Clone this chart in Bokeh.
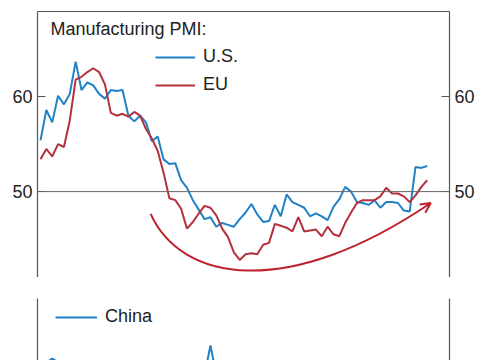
from bokeh.plotting import figure
from bokeh.models import (Range1d, LinearAxis, Span, Legend, LegendItem, Label,
                          Arrow, OpenHead, FixedTicker)
from bokeh.layouts import column
from bokeh.embed import file_html
from bokeh.resources import INLINE

# ---------------- data (monthly, Sep 2020 .. Mar 2026) ----------------
months = list(range(67))
us_pmi = [55.4, 58.6, 57.3, 60.1, 59.2, 60.3, 63.7, 60.7, 61.5, 61.2,
          60.3, 59.8, 60.7, 60.6, 60.7, 58.0, 57.4, 58.0, 57.3, 55.3,
          55.8, 53.4, 52.9, 53.0, 51.2, 50.4, 49.1, 48.1, 47.1, 47.3,
          46.3, 46.7, 46.5, 46.3, 47.1, 47.8, 48.7, 47.6, 46.8, 46.9,
          48.6, 47.4, 49.7, 48.9, 48.6, 48.3, 47.4, 47.7, 47.4, 47.0,
          48.4, 49.2, 50.5, 50.0, 48.9, 48.8, 48.6, 49.1, 48.3, 48.9,
          48.9, 48.8, 48.0, 47.9, 52.6, 52.5, 52.7]
eu_pmi = [53.4, 54.5, 53.7, 55.0, 54.7, 57.5, 61.8, 62.1, 62.6, 63.0,
          62.6, 61.3, 58.3, 58.0, 58.2, 57.9, 58.4, 58.0, 56.6, 55.6,
          54.3, 52.0, 49.3, 49.1, 48.2, 46.1, 46.8, 47.7, 48.5, 48.3,
          47.5, 46.1, 45.2, 43.6, 42.8, 43.4, 43.5, 43.4, 44.4, 44.6,
          46.6, 46.4, 46.2, 45.8, 47.3, 45.8, 45.9, 46.0, 45.3, 46.3,
          45.5, 45.3, 46.7, 47.8, 48.8, 49.1, 49.1, 49.1, 49.5, 50.4,
          49.8, 49.8, 49.5, 48.9, 49.6, 50.5, 51.2]
# only the Feb-2023 spike (and a slight bump late 2020) is visible in the crop
china_pmi = [50.2, 50.1, 50.7, 50.2, 49.9, 49.6, 50.2, 50.1, 50.0, 49.9,
             49.6, 49.4, 49.1, 48.8, 49.5, 49.7, 49.5, 49.6, 49.0, 47.4,
             49.1, 49.6, 48.7, 49.0, 49.5, 48.9, 48.0, 47.0, 48.3, 52.6,
             48.4, 49.0, 48.6, 48.8, 49.1, 49.4, 49.8, 49.3, 49.2, 48.8,
             49.0, 48.9, 50.1, 49.9, 49.3, 49.3, 49.2, 48.9, 49.5, 49.8,
             50.0, 49.8, 48.9, 49.9, 50.1, 48.8, 49.3, 49.5, 49.1, 49.2,
             49.6, 48.8, 49.0, 49.8, 49.1, 49.3, 49.4]
y_ticks = [50, 60]

# curved arrow (annotation), data coordinates
arrow_start = (18.8, 47.65)
arrow_c1 = (24.0, 40.5)
arrow_c2 = (42.0, 38.5)
arrow_end = (66.6, 48.8)

FONT = "Liberation Sans"
BLUE = "#2181c6"
RED = "#b5303d"
ARROW_RED = "#c0222b"
AX = "#555555"
TXT = "#222222"
X_RANGE = (-0.51, 69.8)


def style_axis(ax):
    ax.ticker = FixedTicker(ticks=y_ticks)
    ax.axis_line_color = AX
    ax.axis_line_width = 1.2
    ax.major_tick_line_color = AX
    ax.major_tick_line_width = 1.2
    ax.major_tick_in = 8
    ax.major_tick_out = 0
    ax.minor_tick_line_color = None
    ax.major_label_text_font = FONT
    ax.major_label_text_font_size = "18px"
    ax.major_label_text_color = TXT
    ax.major_label_standoff = 5


def make_fig(height, yr, top_border, min_top):
    f = figure(width=485, height=height, x_range=Range1d(*X_RANGE),
               y_range=Range1d(*yr), output_backend="svg",
               toolbar_location=None, x_axis_location=None,
               y_axis_location=None, min_border_left=37,
               min_border_right=36, min_border_top=min_top,
               min_border_bottom=0)
    f.outline_line_color = None
    f.background_fill_color = "white"
    f.border_fill_color = "white"
    f.xgrid.grid_line_color = None
    f.ygrid.grid_line_color = None
    left = LinearAxis()
    right = LinearAxis()
    style_axis(left)
    style_axis(right)
    f.add_layout(left, "left")
    f.add_layout(right, "right")
    if top_border:
        top = LinearAxis(ticker=FixedTicker(ticks=[]))
        top.axis_line_color = AX
        top.axis_line_width = 1.2
        top.major_tick_line_color = None
        top.minor_tick_line_color = None
        top.major_label_text_font_size = "0px"
        top.major_label_standoff = 0
        f.add_layout(top, "above")
    return f


# ---------------- top panel ----------------
p = make_fig(277, (40.95, 68.98), True, 11)
p.add_layout(Span(location=50, dimension="width", line_color="#666666",
                  line_width=1))
r_us = p.line(months, us_pmi, line_color=BLUE, line_width=2)
r_eu = p.line(months, eu_pmi, line_color=RED, line_width=2)

p.bezier(x0=[arrow_start[0]], y0=[arrow_start[1]],
         x1=[arrow_end[0]], y1=[arrow_end[1]],
         cx0=[arrow_c1[0]], cy0=[arrow_c1[1]],
         cx1=[arrow_c2[0]], cy1=[arrow_c2[1]],
         line_color=ARROW_RED, line_width=2)
tx = arrow_end[0] - arrow_c2[0]
ty = arrow_end[1] - arrow_c2[1]
p.add_layout(Arrow(end=OpenHead(size=10, line_color=ARROW_RED, line_width=2),
                   x_start=arrow_end[0] - 0.03 * tx,
                   y_start=arrow_end[1] - 0.03 * ty,
                   x_end=arrow_end[0], y_end=arrow_end[1],
                   line_color=ARROW_RED, line_width=2))

p.add_layout(Label(x=1.7, y=67.13, text="Manufacturing PMI:", text_font=FONT,
                   text_font_size="18px", text_color=TXT,
                   text_baseline="middle"))
leg = Legend(items=[LegendItem(label="U.S.", renderers=[r_us]),
                    LegendItem(label="EU", renderers=[r_eu])],
             location=(118, 182), orientation="vertical", glyph_width=40,
             glyph_height=20, label_height=20, label_standoff=8, spacing=7,
             padding=0, margin=0, background_fill_alpha=0,
             border_line_alpha=0, label_text_font=FONT,
             label_text_font_size="18px", label_text_color=TXT)
p.add_layout(leg)

# ---------------- bottom panel ----------------
p2 = make_fig(83, (50.43, 59.39), False, 21)
r_cn = p2.line(months, china_pmi, line_color=BLUE, line_width=2)
leg2 = Legend(items=[LegendItem(label="China", renderers=[r_cn])],
              location=(18, 33), orientation="vertical", glyph_width=42,
              glyph_height=20, label_height=20, label_standoff=8, spacing=0,
              padding=0, margin=0, background_fill_alpha=0,
              border_line_alpha=0, label_text_font=FONT,
              label_text_font_size="18px", label_text_color=TXT)
p2.add_layout(leg2)

layout = column(p, p2, spacing=0)
open("out.html", "w").write(file_html(layout, INLINE))
